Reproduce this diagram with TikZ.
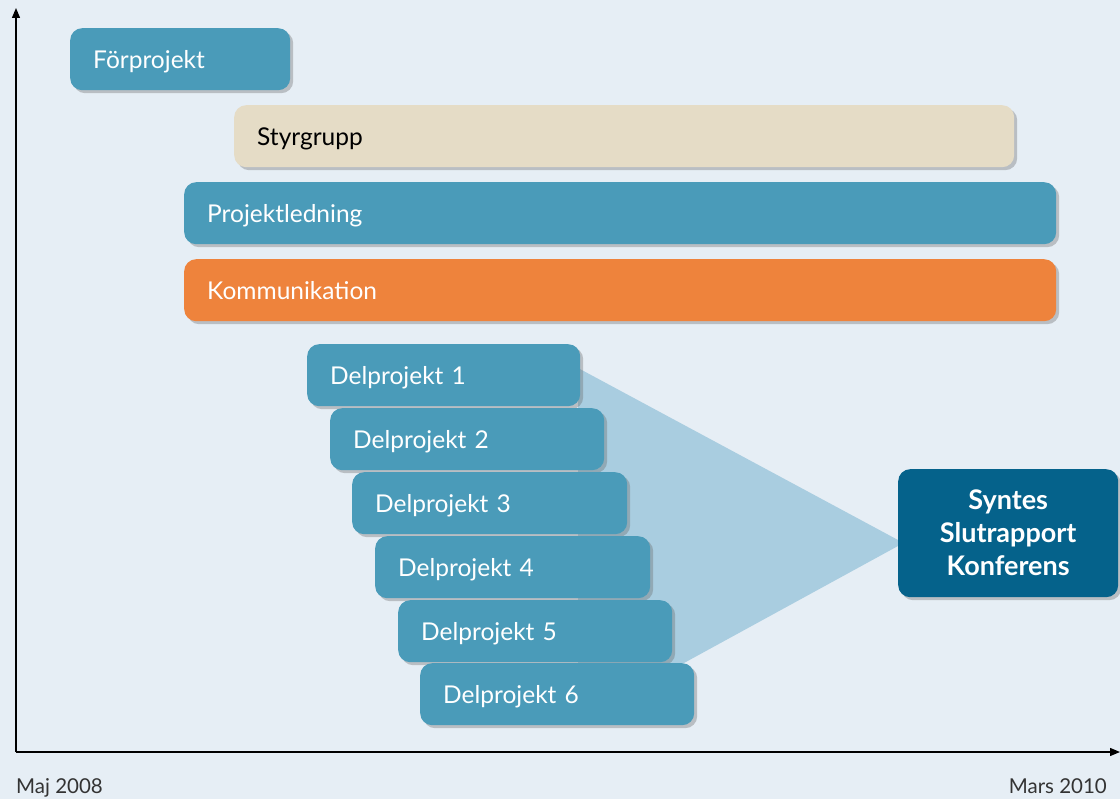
\documentclass[tikz,border=0pt]{standalone}
\usepackage{fontspec}
\setmainfont{Lato}
\usetikzlibrary{shadows,arrows.meta}
\definecolor{bg}{HTML}{E6EEF5}
\definecolor{barblue}{HTML}{4A9BB9}
\definecolor{barsand}{HTML}{E5DCC6}
\definecolor{barorange}{HTML}{EE833C}
\definecolor{darkblue}{HTML}{05628B}
\definecolor{funnel}{HTML}{A9CDE0}
\definecolor{labelgray}{HTML}{333333}
\tikzset{
  bar/.style={rectangle, rounded corners=12pt, anchor=north west, minimum height=62pt,
    inner xsep=23pt, inner ysep=0pt, align=left, text=white,
    text height=18pt, text depth=0pt,
    font=\fontsize{24.5}{28}\selectfont,
    drop shadow={shadow xshift=3pt, shadow yshift=-3pt, opacity=0.35, fill=black!60}},
  bluebar/.style={bar, fill=barblue},
  axislabel/.style={font=\fontsize{20.5}{24}\selectfont, text=labelgray, inner sep=0pt},
  axisline/.style={line width=1.3pt, -{Triangle[length=10pt,width=8pt]}}
}
\begin{document}
\begin{tikzpicture}[x=1pt,y=-1pt]
\fill[bg] (0,0) rectangle (1120,799);
\useasboundingbox (0,0) rectangle (1120,799);
% funnel
\coordinate (f1) at (578,368);
\coordinate (f2) at (898,540);
\coordinate (f3) at (898,546);
\coordinate (f4) at (684,663);
\coordinate (f5) at (578,663);
\fill[funnel] (f1) -- (f2) -- (f3) -- (f4) -- (f5) -- cycle;
% axes
\coordinate (o) at (16,752);
\coordinate (ytop) at (16,8);
\coordinate (xend) at (1120,752);
\draw[axisline] (o) -- (ytop);
\draw[axisline] (o) -- (xend);
\node[axislabel, anchor=base west] (lstart) at (16,793) {Maj 2008};
\node[axislabel, anchor=base east] (lend) at (1107,793) {Mars 2010};
% bars
\node[bluebar, minimum width=220pt, text width=174pt] (forp) at (70,28) {Förprojekt};
\node[bar, fill=barsand, text=black, minimum width=780pt, text width=734pt] (styr) at (234,105) {Styrgrupp};
\node[bluebar, minimum width=872pt, text width=826pt] (pled) at (184,182) {Projektledning};
\node[bar, fill=barorange, minimum width=872pt, text width=826pt] (komm) at (184,259) {Kommunikation};
\node[bluebar, minimum width=273pt, text width=227pt] (d1) at (307,344) {Delprojekt 1};
\node[bluebar, minimum width=274pt, text width=228pt] (d2) at (330,408) {Delprojekt 2};
\node[bluebar, minimum width=275pt, text width=229pt] (d3) at (352,472) {Delprojekt 3};
\node[bluebar, minimum width=275pt, text width=229pt] (d4) at (375,536) {Delprojekt 4};
\node[bluebar, minimum width=274pt, text width=228pt] (d5) at (398,600) {Delprojekt 5};
\node[bluebar, minimum width=274pt, text width=228pt] (d6) at (420,663) {Delprojekt 6};
% synthesis
\node[bar, fill=darkblue, minimum width=220pt, minimum height=128pt, text width=200pt,
  text height={}, text depth={},
  inner xsep=10pt, align=center, font=\bfseries\fontsize{27}{33}\selectfont] (syn) at (898,469)
  {Syntes\\Slutrapport\\Konferens};
\end{tikzpicture}
\end{document}
